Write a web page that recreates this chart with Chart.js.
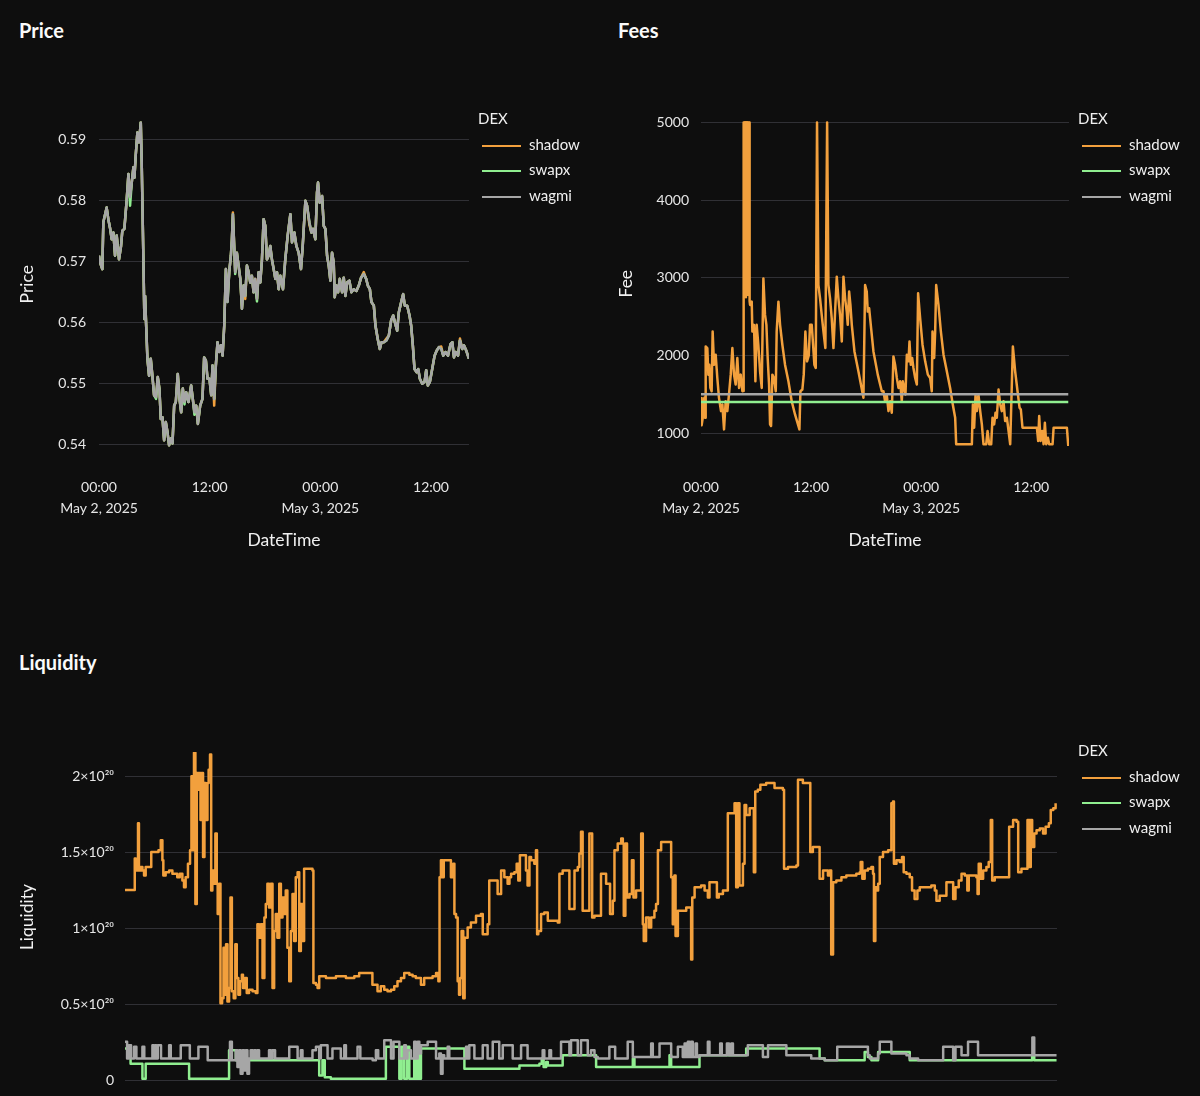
<!DOCTYPE html>
<html>
<head>
<meta charset="utf-8">
<title>DEX dashboard</title>
<script src="https://cdn.jsdelivr.net/npm/chart.js@4.4.1/dist/chart.umd.min.js"></script>
<style>
  html, body { margin: 0; padding: 0; background: #0e0e0e; }
  body { position: relative; width: 1200px; height: 1096px; overflow: hidden; font-family: Lato, "Noto Sans", sans-serif; color: #fafafa; }
  .title { position: absolute; font-size: 20px; font-weight: 700; line-height: 24px; }
  canvas { position: absolute; }
  .legend { position: absolute; font-size: 15px; line-height: 25.5px; color: #f0f0f0; white-space: nowrap; }
  .legend .sw { display: inline-block; width: 39px; height: 2px; margin: 0 8px 0 4px; vertical-align: middle; }
</style>
</head>
<body>
<div class="title" style="left:19px;top:18px">Price</div>
<div class="title" style="left:618px;top:18px">Fees</div>
<div class="title" style="left:19px;top:650px">Liquidity</div>
<canvas id="price" width="480" height="470" style="left:0;top:100px"></canvas>
<canvas id="fees" width="480" height="470" style="left:600px;top:100px"></canvas>
<canvas id="liquidity" width="1080" height="502" style="left:0;top:700px"></canvas>
<script>
// series names / colours
const dexNames = ['shadow', 'swapx', 'wagmi'];
const dexColors = ['#f2a03d', '#90ee90', '#a6a6a6'];

// x axis: hours since May 2, 2025 00:00
const xMax = 40.12;
const timeTickHours = [0, 12, 24, 36];
const timeTickLabels = [['00:00', 'May 2, 2025'], '12:00', ['00:00', 'May 3, 2025'], '12:00'];

const priceTicks = [0.54, 0.55, 0.56, 0.57, 0.58, 0.59];
const feeTicks = [1000, 2000, 3000, 4000, 5000];
const liqTicks = [0, 0.5, 1, 1.5, 2];
const liqTickLabels = ['0', '0.5×10²⁰', '1×10²⁰', '1.5×10²⁰', '2×10²⁰'];

// ---- Price (shared sample times) ----
const priceHours = [
  0.00, 0.11, 0.36, 0.47, 0.83, 1.01, 1.19, 1.38, 1.56, 1.74,
  1.92, 2.17, 2.39, 2.53, 2.75, 3.01, 3.19, 3.37, 3.55, 3.73,
  3.84, 3.98, 4.16, 4.34, 4.53, 4.63, 4.82, 4.92, 5.00, 5.10,
  5.25, 5.43, 5.61, 5.79, 5.97, 6.19, 6.37, 6.55, 6.70, 6.88,
  7.06, 7.24, 7.42, 7.60, 7.78, 7.97, 8.15, 8.33, 8.54, 8.73,
  8.91, 9.09, 9.27, 9.45, 9.70, 9.99, 10.17, 10.35, 10.54, 10.72,
  10.97, 11.22, 11.40, 11.59, 11.77, 11.98, 12.17, 12.31, 12.49, 12.67,
  12.85, 13.03, 13.22, 13.40, 13.58, 13.76, 13.94, 14.12, 14.30, 14.41,
  14.52, 14.66, 14.77, 14.95, 15.13, 15.32, 15.50, 15.68, 15.86, 16.04,
  16.22, 16.40, 16.58, 16.76, 16.94, 17.13, 17.31, 17.49, 17.67, 17.85,
  18.03, 18.21, 18.39, 18.57, 18.75, 18.94, 19.12, 19.30, 19.48, 19.66,
  19.95, 20.20, 20.46, 20.75, 20.93, 21.18, 21.40, 21.65, 21.90, 22.09,
  22.38, 22.56, 22.81, 23.03, 23.21, 23.46, 23.64, 23.75, 23.93, 24.19,
  24.37, 24.55, 24.73, 24.91, 25.09, 25.27, 25.45, 25.56, 25.74, 25.92,
  26.11, 26.36, 26.54, 26.72, 26.90, 27.15, 27.37, 27.62, 27.91, 28.17,
  28.42, 28.71, 28.97, 29.15, 29.37, 29.54, 29.80, 29.98, 30.23, 30.45,
  30.63, 30.88, 31.17, 31.43, 31.68, 31.90, 32.08, 32.33, 32.51, 32.77,
  32.98, 33.16, 33.42, 33.67, 33.85, 34.03, 34.21, 34.43, 34.61, 34.79,
  35.05, 35.30, 35.48, 35.66, 35.88, 36.13, 36.39, 36.61, 36.86, 37.11,
  37.33, 37.58, 37.84, 38.12, 38.31, 38.49, 38.67, 38.93, 39.14, 39.39,
  39.57, 39.83, 40.11
];
const priceWagmi = [
  0.5709, 0.5698, 0.5687, 0.5764, 0.5788, 0.5769, 0.5755, 0.5736, 0.5747, 0.5709,
  0.5742, 0.5703, 0.5725, 0.5750, 0.5753, 0.5802, 0.5843, 0.5805, 0.5829, 0.5854,
  0.5837, 0.5873, 0.5911, 0.5895, 0.5928, 0.5862, 0.5698, 0.5605, 0.5643, 0.5600,
  0.5540, 0.5512, 0.5540, 0.5512, 0.5480, 0.5477, 0.5510, 0.5491, 0.5441, 0.5444,
  0.5406, 0.5436, 0.5420, 0.5398, 0.5409, 0.5401, 0.5463, 0.5469, 0.5515, 0.5474,
  0.5452, 0.5491, 0.5469, 0.5485, 0.5469, 0.5496, 0.5474, 0.5452, 0.5463, 0.5433,
  0.5463, 0.5474, 0.5542, 0.5537, 0.5507, 0.5507, 0.5480, 0.5529, 0.5474, 0.5529,
  0.5567, 0.5551, 0.5562, 0.5545, 0.5594, 0.5687, 0.5633, 0.5682, 0.5709, 0.5736,
  0.5777, 0.5725, 0.5682, 0.5714, 0.5693, 0.5671, 0.5622, 0.5660, 0.5643, 0.5693,
  0.5682, 0.5665, 0.5676, 0.5649, 0.5671, 0.5638, 0.5682, 0.5665, 0.5703, 0.5769,
  0.5758, 0.5703, 0.5709, 0.5725, 0.5703, 0.5687, 0.5671, 0.5682, 0.5654, 0.5676,
  0.5654, 0.5703, 0.5742, 0.5777, 0.5731, 0.5747, 0.5725, 0.5714, 0.5687, 0.5725,
  0.5799, 0.5791, 0.5764, 0.5747, 0.5753, 0.5736, 0.5813, 0.5829, 0.5796, 0.5807,
  0.5758, 0.5753, 0.5709, 0.5693, 0.5668, 0.5714, 0.5698, 0.5641, 0.5660, 0.5649,
  0.5671, 0.5649, 0.5673, 0.5643, 0.5665, 0.5668, 0.5649, 0.5654, 0.5651, 0.5660,
  0.5673, 0.5679, 0.5671, 0.5660, 0.5654, 0.5633, 0.5627, 0.5594, 0.5572, 0.5556,
  0.5567, 0.5567, 0.5570, 0.5578, 0.5603, 0.5611, 0.5600, 0.5586, 0.5616, 0.5633,
  0.5646, 0.5627, 0.5627, 0.5611, 0.5594, 0.5562, 0.5523, 0.5518, 0.5523, 0.5507,
  0.5499, 0.5502, 0.5521, 0.5496, 0.5502, 0.5523, 0.5545, 0.5553, 0.5559, 0.5556,
  0.5545, 0.5551, 0.5545, 0.5564, 0.5567, 0.5542, 0.5551, 0.5545, 0.5570, 0.5556,
  0.5562, 0.5553, 0.5540
];
const priceShadow = [
  0.5709, 0.5698, 0.5687, 0.5764, 0.5788, 0.5769, 0.5755, 0.5736, 0.5747, 0.5709,
  0.5742, 0.5703, 0.5725, 0.5750, 0.5753, 0.5802, 0.5843, 0.5805, 0.5829, 0.5854,
  0.5837, 0.5873, 0.5911, 0.5895, 0.5928, 0.5862, 0.5698, 0.5605, 0.5643, 0.5600,
  0.5540, 0.5512, 0.5540, 0.5512, 0.5480, 0.5477, 0.5510, 0.5491, 0.5441, 0.5444,
  0.5406, 0.5436, 0.5420, 0.5398, 0.5409, 0.5401, 0.5463, 0.5469, 0.5515, 0.5474,
  0.5452, 0.5491, 0.5469, 0.5485, 0.5469, 0.5496, 0.5474, 0.5452, 0.5463, 0.5433,
  0.5463, 0.5474, 0.5542, 0.5537, 0.5507, 0.5507, 0.5480, 0.5529, 0.5463, 0.5529,
  0.5567, 0.5551, 0.5562, 0.5545, 0.5594, 0.5687, 0.5640, 0.5682, 0.5709, 0.5736,
  0.5780, 0.5725, 0.5682, 0.5714, 0.5693, 0.5671, 0.5622, 0.5660, 0.5638, 0.5693,
  0.5682, 0.5665, 0.5676, 0.5649, 0.5671, 0.5638, 0.5682, 0.5665, 0.5703, 0.5769,
  0.5758, 0.5703, 0.5709, 0.5725, 0.5703, 0.5687, 0.5671, 0.5682, 0.5654, 0.5676,
  0.5654, 0.5703, 0.5742, 0.5777, 0.5731, 0.5747, 0.5725, 0.5714, 0.5687, 0.5725,
  0.5799, 0.5791, 0.5760, 0.5747, 0.5753, 0.5736, 0.5813, 0.5829, 0.5796, 0.5807,
  0.5758, 0.5753, 0.5709, 0.5693, 0.5668, 0.5714, 0.5698, 0.5641, 0.5660, 0.5649,
  0.5671, 0.5649, 0.5673, 0.5643, 0.5665, 0.5668, 0.5649, 0.5654, 0.5651, 0.5660,
  0.5673, 0.5682, 0.5671, 0.5660, 0.5654, 0.5633, 0.5627, 0.5594, 0.5572, 0.5556,
  0.5567, 0.5567, 0.5573, 0.5578, 0.5603, 0.5611, 0.5600, 0.5586, 0.5616, 0.5633,
  0.5646, 0.5627, 0.5627, 0.5611, 0.5594, 0.5562, 0.5523, 0.5518, 0.5523, 0.5507,
  0.5499, 0.5502, 0.5521, 0.5496, 0.5502, 0.5523, 0.5545, 0.5553, 0.5559, 0.5560,
  0.5545, 0.5551, 0.5545, 0.5564, 0.5567, 0.5542, 0.5551, 0.5545, 0.5573, 0.5556,
  0.5562, 0.5553, 0.5540
];
const priceSwapx = [
  0.5709, 0.5698, 0.5687, 0.5764, 0.5788, 0.5769, 0.5755, 0.5736, 0.5747, 0.5709,
  0.5742, 0.5703, 0.5725, 0.5750, 0.5753, 0.5802, 0.5843, 0.5791, 0.5829, 0.5854,
  0.5837, 0.5873, 0.5911, 0.5895, 0.5928, 0.5862, 0.5698, 0.5605, 0.5643, 0.5600,
  0.5540, 0.5512, 0.5540, 0.5512, 0.5480, 0.5474, 0.5510, 0.5491, 0.5441, 0.5444,
  0.5406, 0.5436, 0.5420, 0.5398, 0.5409, 0.5401, 0.5463, 0.5469, 0.5515, 0.5474,
  0.5452, 0.5491, 0.5465, 0.5485, 0.5469, 0.5496, 0.5474, 0.5448, 0.5463, 0.5433,
  0.5463, 0.5474, 0.5542, 0.5537, 0.5507, 0.5507, 0.5480, 0.5529, 0.5474, 0.5529,
  0.5567, 0.5551, 0.5562, 0.5545, 0.5594, 0.5687, 0.5633, 0.5682, 0.5709, 0.5736,
  0.5777, 0.5725, 0.5679, 0.5714, 0.5693, 0.5671, 0.5622, 0.5660, 0.5643, 0.5693,
  0.5682, 0.5665, 0.5676, 0.5649, 0.5660, 0.5634, 0.5682, 0.5665, 0.5703, 0.5769,
  0.5758, 0.5703, 0.5709, 0.5725, 0.5703, 0.5687, 0.5671, 0.5682, 0.5654, 0.5676,
  0.5654, 0.5703, 0.5742, 0.5777, 0.5731, 0.5747, 0.5725, 0.5714, 0.5687, 0.5725,
  0.5799, 0.5791, 0.5764, 0.5747, 0.5753, 0.5736, 0.5813, 0.5829, 0.5796, 0.5807,
  0.5758, 0.5753, 0.5709, 0.5693, 0.5668, 0.5714, 0.5698, 0.5641, 0.5660, 0.5649,
  0.5671, 0.5649, 0.5673, 0.5643, 0.5665, 0.5668, 0.5649, 0.5654, 0.5651, 0.5660,
  0.5673, 0.5679, 0.5671, 0.5660, 0.5654, 0.5633, 0.5627, 0.5594, 0.5572, 0.5556,
  0.5567, 0.5567, 0.5570, 0.5578, 0.5603, 0.5611, 0.5600, 0.5586, 0.5616, 0.5633,
  0.5646, 0.5627, 0.5627, 0.5611, 0.5594, 0.5562, 0.5523, 0.5518, 0.5523, 0.5507,
  0.5499, 0.5502, 0.5521, 0.5496, 0.5502, 0.5523, 0.5545, 0.5553, 0.5559, 0.5556,
  0.5545, 0.5551, 0.5545, 0.5564, 0.5567, 0.5542, 0.5551, 0.5545, 0.5570, 0.5556,
  0.5562, 0.5553, 0.5540
];

// ---- Fees: [hour, fee] ----
const feeShadow = [
  [0.00,1450],[0.07,1100],[0.22,1218],[0.36,1453],[0.44,1197],[0.51,2115],[0.69,2094],[0.80,1752],[0.91,1880],[1.02,1581],
  [1.16,1538],[1.27,2308],[1.42,1880],[1.60,2009],[1.78,1709],[1.96,1453],[2.18,1282],[2.33,1368],[2.51,1047],[2.69,1410],
  [2.87,1282],[3.05,1496],[3.24,1752],[3.42,2094],[3.60,1752],[3.78,1624],[3.96,1966],[4.15,1581],[4.33,1752],[4.51,1538],
  [4.60,1540],[4.62,5000],[4.68,2800],[4.73,5000],[4.79,2900],[4.84,5000],[4.90,2750],[4.95,5000],[5.01,2850],[5.06,5000],
  [5.12,2780],[5.18,5000],[5.24,5000],[5.30,2700],[5.35,2650],[5.53,2692],[5.60,2308],[5.78,2393],[5.93,1667],[6.07,2393],
  [6.25,2137],[6.44,1795],[6.62,1581],[6.80,2991],[6.98,2521],[7.13,2393],[7.27,1966],[7.42,1624],[7.53,1111],[7.64,1090],
  [7.78,1752],[7.96,1709],[8.15,1538],[8.25,2308],[8.44,2692],[8.62,2393],[8.87,2137],[9.16,1880],[9.53,1667],[9.89,1410],
  [10.25,1239],[10.73,1047],[10.84,1538],[11.05,1560],[11.20,1752],[11.38,2308],[11.56,1923],[11.75,2000],[11.89,2393],[12.07,2393],
  [12.22,2137],[12.36,1880],[12.51,1838],[12.65,5000],[12.80,2906],[12.98,2735],[13.16,2521],[13.35,2308],[13.56,2094],[13.75,5000],
  [13.89,2906],[14.07,2735],[14.25,2479],[14.44,2094],[14.62,2564],[14.80,3013],[14.98,2735],[15.16,2521],[15.35,2179],[15.53,3013],
  [15.71,2735],[15.89,2564],[16.00,2393],[16.15,2821],[16.29,2650],[16.44,2393],[16.73,2051],[17.16,1795],[17.71,1453],[17.89,2906],
  [18.07,2821],[18.18,2564],[18.33,2607],[18.51,2393],[18.80,2051],[19.27,1752],[19.53,1624],[19.71,1538],[19.89,1538],[20.07,1410],
  [20.25,1496],[20.44,1282],[20.62,1410],[20.80,1261],[20.98,1987],[21.16,1880],[21.35,1709],[21.53,1581],[21.71,1667],[21.89,1410],
  [22.00,1667],[22.15,1581],[22.29,1496],[22.44,2009],[22.62,1923],[22.73,2179],[22.87,1880],[23.02,1966],[23.16,1838],[23.35,1709],
  [23.53,1624],[23.67,2799],[23.89,2479],[24.15,2137],[24.44,1923],[24.73,1752],[24.98,1709],[25.16,1538],[25.24,2308],[25.42,1966],
  [25.53,2308],[25.64,2906],[25.89,2650],[26.15,2308],[26.44,2009],[26.80,1795],[27.16,1581],[27.45,1368],[27.71,1197],[27.82,855],
  [29.53,855],[29.64,1368],[29.78,1068],[29.93,1496],[30.07,1282],[30.25,1496],[30.44,1282],[30.62,1111],[30.80,855],[31.09,855],
  [31.24,1026],[31.42,855],[31.64,855],[31.78,1197],[31.96,1111],[32.11,1261],[32.25,1197],[32.44,1560],[32.62,1368],[32.80,1282],
  [32.98,1410],[33.16,1154],[33.35,1197],[33.53,1026],[33.71,855],[34.00,2115],[34.25,1795],[34.51,1538],[34.73,1325],[34.87,1303],
  [35.05,1068],[36.62,1068],[36.76,897],[36.87,1218],[37.02,897],[37.20,1026],[37.35,855],[37.49,1132],[37.64,855],[37.82,940],
  [37.96,855],[38.33,855],[38.44,1068],[39.89,1068],[40.04,833]
];
const feeSwapx = [[0.00,1400],[40.04,1400]];
const feeWagmi = [[0.00,1500],[40.04,1500]];

// ---- Liquidity: [hour, liquidity ×10^20], each value holds until the next point ----
const liqShadow = [
  [0.00,1.253],[0.42,1.459],[0.46,1.381],[0.56,1.691],[0.60,1.381],[0.68,1.403],[0.75,1.381],[0.82,1.348],[0.89,1.403],[1.13,1.503],
  [1.44,1.514],[1.54,1.580],[1.61,1.448],[1.65,1.348],[1.75,1.370],[1.90,1.381],[2.04,1.359],[2.25,1.337],[2.36,1.359],[2.47,1.315],
  [2.54,1.271],[2.61,1.337],[2.71,1.425],[2.80,1.514],[2.86,2.000],[2.90,1.514],[2.97,2.155],[3.03,1.160],[3.09,2.022],[3.15,1.912],
  [3.19,2.022],[3.25,1.713],[3.30,2.022],[3.36,1.470],[3.42,1.956],[3.48,1.713],[3.55,1.956],[3.60,2.044],[3.66,2.144],[3.71,1.249],
  [3.76,1.381],[3.82,1.293],[3.89,1.624],[3.95,1.293],[3.99,1.094],[4.05,1.293],[4.11,0.508],[4.18,0.541],[4.24,0.873],[4.29,0.564],
  [4.35,0.895],[4.41,0.519],[4.48,0.608],[4.54,1.204],[4.60,0.586],[4.68,0.541],[4.75,0.895],[4.81,0.674],[4.88,0.564],[4.95,0.652],
  [5.03,0.696],[5.08,0.608],[5.17,0.674],[5.24,0.575],[5.34,0.597],[5.49,0.586],[5.63,0.575],[5.70,1.028],[5.77,0.939],[5.85,1.028],
  [5.92,0.674],[6.00,1.072],[6.06,1.160],[6.13,1.293],[6.20,1.138],[6.28,1.293],[6.35,0.608],[6.42,0.983],[6.49,1.094],[6.56,0.939],
  [6.64,1.293],[6.71,1.072],[6.78,1.204],[6.85,1.094],[6.92,1.249],[6.99,0.873],[7.07,0.652],[7.14,0.983],[7.21,1.227],[7.28,0.917],
  [7.35,1.337],[7.43,1.370],[7.50,0.851],[7.57,1.160],[7.64,0.917],[7.71,1.392],[8.07,1.381],[8.11,0.641],[8.22,0.630],[8.29,0.608],
  [8.36,0.685],[8.65,0.674],[9.08,0.685],[9.51,0.674],[9.87,0.685],[10.08,0.707],[10.65,0.630],[10.87,0.586],[11.01,0.619],[11.16,0.597],
  [11.30,0.586],[11.45,0.597],[11.59,0.619],[11.73,0.652],[11.88,0.674],[12.02,0.707],[12.24,0.696],[12.38,0.685],[12.52,0.674],[12.74,0.630],
  [12.88,0.674],[13.24,0.685],[13.39,0.707],[13.49,0.652],[13.54,1.337],[13.60,1.448],[13.67,1.337],[13.72,1.448],[14.03,1.337],[14.13,1.425],
  [14.18,1.094],[14.25,1.072],[14.32,0.652],[14.38,0.564],[14.43,0.674],[14.49,0.983],[14.56,0.541],[14.62,0.939],[14.75,1.006],[14.89,1.039],
  [15.11,1.083],[15.32,1.094],[15.40,0.961],[15.61,1.028],[15.68,1.315],[16.04,1.227],[16.19,1.381],[16.33,1.337],[16.47,1.293],[16.55,1.337],
  [16.62,1.359],[16.76,1.370],[16.86,1.425],[16.93,1.315],[17.00,1.481],[17.26,1.381],[17.33,1.282],[17.41,1.470],[17.48,1.448],[17.62,1.425],
  [17.69,1.514],[17.74,0.961],[17.79,0.983],[17.91,1.094],[18.05,1.105],[18.20,1.050],[18.63,1.039],[18.70,1.359],[18.84,1.381],[19.13,1.127],
  [19.35,1.381],[19.49,1.403],[19.56,1.492],[19.63,1.635],[19.70,1.116],[19.99,1.624],[20.11,1.072],[20.21,1.083],[20.49,1.359],[20.71,1.293],
  [20.88,1.094],[21.00,1.182],[21.07,1.514],[21.21,1.558],[21.36,1.591],[21.43,1.558],[21.47,1.083],[21.54,1.558],[21.61,1.204],[21.72,1.227],
  [21.82,1.448],[21.89,1.204],[22.00,1.249],[22.22,1.624],[22.29,1.028],[22.33,0.917],[22.43,1.072],[22.55,1.006],[22.65,1.072],[22.79,1.116],
  [22.86,1.160],[22.94,1.514],[23.08,1.569],[23.51,1.337],[23.58,1.028],[23.65,1.348],[23.70,0.950],[23.80,1.116],[24.16,1.138],[24.37,0.796],
  [24.42,1.204],[24.52,1.271],[24.80,1.282],[24.95,1.249],[25.09,1.204],[25.16,1.304],[25.48,1.204],[25.56,1.227],[25.74,1.249],[25.95,1.757],
  [26.24,1.823],[26.31,1.271],[26.38,1.823],[26.45,1.282],[26.60,1.425],[26.67,1.812],[26.74,1.746],[26.89,1.790],[27.07,1.370],[27.13,1.901],
  [27.24,1.912],[27.35,1.945],[27.60,1.956],[27.96,1.923],[28.32,1.912],[28.37,1.392],[28.54,1.403],[28.90,1.414],[28.97,1.978],[29.18,1.956],
  [29.50,1.503],[29.61,1.536],[29.90,1.326],[30.05,1.381],[30.26,1.348],[30.33,1.381],[30.40,0.829],[30.48,1.304],[30.62,1.315],[30.84,1.337],
  [31.05,1.348],[31.48,1.359],[31.63,1.370],[31.67,1.436],[31.74,1.326],[31.84,1.381],[31.98,1.392],[32.13,1.403],[32.20,1.359],[32.24,0.917],
  [32.30,1.271],[32.34,1.249],[32.42,1.293],[32.49,1.470],[32.63,1.503],[32.85,1.514],[32.99,1.823],[33.06,1.834],[33.10,1.425],[33.21,1.448],
  [33.35,1.436],[33.45,1.470],[33.52,1.370],[33.64,1.359],[33.78,1.337],[33.88,1.249],[33.99,1.193],[34.11,1.249],[34.21,1.271],[34.71,1.282],
  [34.86,1.249],[34.93,1.182],[35.07,1.215],[35.36,1.304],[35.65,1.193],[35.75,1.271],[35.89,1.315],[36.01,1.359],[36.15,1.348],[36.26,1.249],
  [36.32,1.348],[36.65,1.337],[36.70,1.227],[36.75,1.425],[36.84,1.326],[36.94,1.381],[37.08,1.403],[37.18,1.436],[37.27,1.713],[37.33,1.315],
  [37.44,1.337],[38.06,1.669],[38.23,1.713],[38.38,1.702],[38.45,1.370],[38.59,1.392],[38.85,1.713],[38.94,1.403],[38.99,1.713],[39.05,1.536],
  [39.14,1.624],[39.24,1.646],[39.38,1.657],[39.52,1.624],[39.63,1.669],[39.77,1.691],[39.85,1.779],[39.96,1.790],[40.06,1.823]
];
const liqSwapx = [
  [0.00,0.210],[0.24,0.110],[0.75,0.011],[0.89,0.110],[2.76,0.011],[4.48,0.199],[4.77,0.133],[8.36,0.033],[8.50,0.133],[8.60,0.022],
  [8.86,0.011],[11.23,0.221],[11.81,0.011],[11.91,0.221],[12.02,0.011],[12.14,0.221],[12.24,0.011],[12.45,0.221],[12.52,0.011],[12.62,0.221],
  [12.68,0.011],[12.74,0.210],[14.61,0.077],[16.98,0.099],[17.84,0.110],[17.94,0.144],[18.02,0.088],[18.13,0.121],[18.20,0.099],[18.84,0.166],
  [20.28,0.088],[21.86,0.144],[21.93,0.088],[23.44,0.166],[23.51,0.088],[24.73,0.166],[26.74,0.210],[29.90,0.144],[30.12,0.133],[31.84,0.188],
  [31.98,0.155],[32.13,0.133],[32.42,0.188],[33.78,0.133],[39.05,0.166],[39.14,0.133],[40.10,0.133]
];
const liqWagmi = [
  [0.00,0.254],[0.09,0.144],[0.17,0.232],[0.26,0.144],[0.39,0.221],[0.49,0.144],[0.75,0.221],[0.83,0.144],[1.18,0.232],[1.24,0.144],
  [1.29,0.232],[1.35,0.144],[1.41,0.232],[1.55,0.144],[1.90,0.232],[1.97,0.144],[2.40,0.232],[2.79,0.144],[3.16,0.221],[3.56,0.133],
  [4.52,0.254],[4.60,0.133],[4.77,0.199],[4.84,0.088],[4.91,0.199],[4.98,0.044],[5.06,0.199],[5.13,0.066],[5.20,0.199],[5.27,0.044],
  [5.34,0.144],[5.41,0.199],[5.49,0.144],[5.56,0.199],[5.63,0.144],[5.70,0.199],[5.77,0.144],[6.20,0.199],[6.28,0.144],[6.35,0.199],
  [6.46,0.144],[7.07,0.221],[7.43,0.144],[7.57,0.199],[7.64,0.144],[8.07,0.199],[8.22,0.221],[8.36,0.144],[8.43,0.232],[8.72,0.144],
  [8.93,0.210],[9.29,0.144],[9.44,0.232],[9.51,0.144],[10.01,0.221],[10.13,0.144],[10.66,0.133],[10.80,0.199],[10.90,0.144],[11.16,0.265],
  [11.45,0.144],[11.56,0.254],[11.81,0.144],[12.02,0.232],[12.09,0.144],[12.16,0.199],[12.31,0.144],[12.45,0.254],[12.52,0.144],[12.60,0.254],
  [12.67,0.177],[12.74,0.232],[13.03,0.254],[13.39,0.144],[13.53,0.177],[13.60,0.044],[13.67,0.166],[13.74,0.144],[13.89,0.221],[13.96,0.144],
  [14.68,0.221],[14.75,0.144],[14.82,0.232],[15.04,0.144],[15.40,0.232],[15.61,0.144],[15.83,0.254],[16.11,0.144],[16.26,0.232],[16.69,0.144],
  [17.05,0.232],[17.33,0.144],[17.98,0.199],[18.05,0.144],[18.27,0.199],[18.34,0.144],[18.77,0.254],[19.13,0.166],[19.20,0.265],[19.49,0.166],
  [19.63,0.265],[19.92,0.166],[20.06,0.199],[20.21,0.155],[20.35,0.144],[20.85,0.221],[21.10,0.144],[21.64,0.254],[21.86,0.155],[22.65,0.243],
  [22.72,0.155],[23.01,0.243],[23.51,0.155],[23.80,0.221],[24.01,0.155],[24.09,0.243],[24.16,0.155],[24.23,0.254],[24.30,0.155],[24.37,0.254],
  [24.44,0.155],[24.56,0.243],[24.62,0.155],[24.73,0.166],[25.09,0.254],[25.16,0.166],[25.62,0.243],[25.69,0.166],[25.91,0.243],[26.00,0.166],
  [26.10,0.243],[26.17,0.166],[26.81,0.232],[27.46,0.155],[27.68,0.232],[28.47,0.166],[29.54,0.144],[30.12,0.133],[30.66,0.221],[31.98,0.166],
  [32.06,0.144],[32.42,0.177],[32.49,0.254],[32.99,0.177],[33.64,0.166],[33.78,0.144],[34.14,0.133],[35.22,0.221],[35.65,0.133],[35.75,0.221],
  [36.01,0.166],[36.29,0.254],[36.72,0.166],[39.06,0.282],[39.14,0.166],[40.10,0.166]
];

Chart.defaults.font.family = 'Lato, "Noto Sans", sans-serif';
Chart.defaults.color = '#e6e6e6';

function series(points, i, stepped) {
  return {
    label: dexNames[i],
    data: points.map(p => ({ x: p[0], y: p[1] })),
    borderColor: dexColors[i],
    backgroundColor: dexColors[i],
    borderWidth: 2.5,
    pointRadius: 0,
    tension: 0,
    fill: false,
    stepped: stepped || false,
    borderJoinStyle: 'round',
    order: 2 - i
  };
}

function drawChart(id, c) {
  new Chart(document.getElementById(id), {
    type: 'line',
    data: { datasets: c.datasets },
    options: {
      responsive: false,
      animation: false,
      events: [],
      layout: { padding: c.padding },
      plugins: { legend: { display: false }, tooltip: { enabled: false } },
      scales: {
        x: {
          type: 'linear', min: 0, max: xMax,
          grid: { display: false, drawTicks: false },
          border: { display: false },
          afterBuildTicks: s => { s.ticks = timeTickHours.map(v => ({ value: v })); },
          afterFit: s => { s.height = c.xHeight; },
          ticks: {
            padding: 29.5, maxRotation: 0, autoSkip: false,
            font: { size: 14, lineHeight: 1.5 },
            callback: v => timeTickLabels[timeTickHours.indexOf(v)]
          },
          title: { display: true, text: 'DateTime', color: '#f0f0f0', font: { size: 17.5, lineHeight: 1.2 }, padding: { top: 0, bottom: 19.5 } }
        },
        y: {
          type: 'linear', min: c.yMin, max: c.yMax,
          grid: { color: '#303035', lineWidth: 1, drawTicks: false },
          border: { display: false },
          afterBuildTicks: s => { s.ticks = c.yTicks.map(v => ({ value: v })); },
          afterFit: s => { s.width = c.yWidth; },
          ticks: { padding: c.yTickPad, font: { size: 14 }, callback: c.yFormat },
          title: { display: true, text: c.yTitle, color: '#f0f0f0', font: { size: 17.5, lineHeight: 1.2 }, padding: { top: c.yTitlePad, bottom: 0 } }
        }
      }
    }
  });
}

function legend(left, top) {
  const el = document.createElement('div');
  el.className = 'legend';
  el.style.left = left + 'px';
  el.style.top = top + 'px';
  let html = '<div>DEX</div>';
  dexNames.forEach((n, i) => {
    html += '<div><span class="sw" style="background:' + dexColors[i] + '"></span>' + n + '</div>';
  });
  el.innerHTML = html;
  document.body.appendChild(el);
}

const pricePts = vals => priceHours.map((h, k) => [h, vals[k]]);

drawChart('price', {
  datasets: [series(pricePts(priceShadow), 0), series(pricePts(priceSwapx), 1), series(pricePts(priceWagmi), 2)],
  padding: { left: 0, top: 20, right: 11, bottom: 0 },
  xHeight: 123,
  yMin: 0.53951, yMax: 0.59294, yTicks: priceTicks, yWidth: 99, yTickPad: 13,
  yFormat: v => v.toFixed(2), yTitle: 'Price', yTitlePad: 16.5
});

drawChart('fees', {
  datasets: [series(feeShadow, 0), series(feeSwapx, 1), series(feeWagmi, 2)],
  padding: { left: 0, top: 20, right: 11, bottom: 0 },
  xHeight: 123,
  yMin: 820, yMax: 5026, yTicks: feeTicks, yWidth: 101, yTickPad: 12,
  yFormat: v => String(v), yTitle: 'Fee', yTitlePad: 15.5
});

drawChart('liquidity', {
  datasets: [series(liqShadow, 0, 'before'), series(liqSwapx, 1, 'before'), series(liqWagmi, 2, 'before')],
  padding: { left: 0, top: 52, right: 23, bottom: 0 },
  xHeight: 120,
  yMin: -0.01, yMax: 2.16, yTicks: liqTicks, yWidth: 125, yTickPad: 11,
  yFormat: v => liqTickLabels[liqTicks.indexOf(v)], yTitle: 'Liquidity', yTitlePad: 16.5
});

legend(478, 106.25);
legend(1078, 106.25);
legend(1078, 738.25);
</script>
</body>
</html>
